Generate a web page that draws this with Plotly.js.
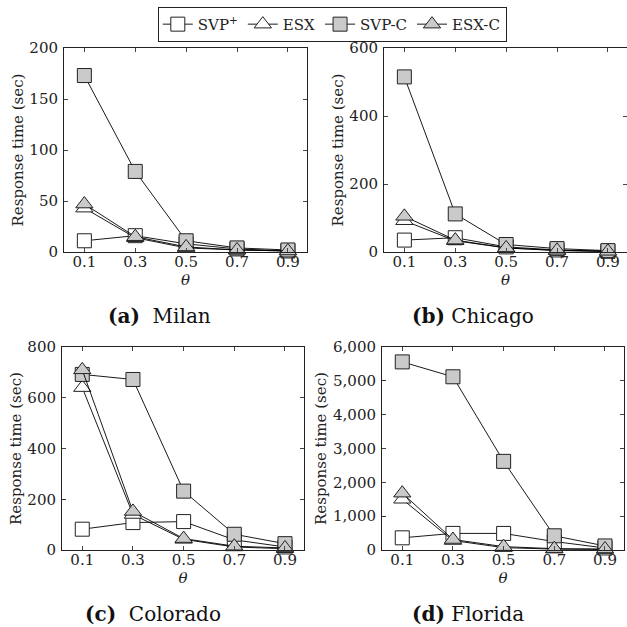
<!DOCTYPE html>
<html>
<head>
<meta charset="utf-8">
<script src="https://cdn.plot.ly/plotly-3.0.1.min.js"></script>
<style>html,body{margin:0;padding:0;background:#fff;}#chart{width:627px;height:627px;}</style>
</head>
<body>
<div id="chart"></div>
<script>
// ---- data ----
const thetas = [0.1, 0.3, 0.5, 0.7, 0.9];
const thetaTicks = ['0.1', '0.3', '0.5', '0.7', '0.9'];
const seriesNames = ['SVP<sup>+</sup>', 'ESX', 'SVP-C', 'ESX-C'];
const panelCaptions = ['<b>(a)</b>  Milan', '<b>(b)</b> Chicago', '<b>(c)</b>  Colorado', '<b>(d)</b> Florida'];

const milanSVPplus = [11, 16, 8, 3, 1];
const milanESX = [43, 14, 4, 2, 1];
const milanSVPC = [173, 79, 11, 4, 2];
const milanESXC = [47, 15, 5, 2, 1];

const chicagoSVPplus = [35, 42, 15, 6, 2];
const chicagoESX = [92, 33, 12, 4, 2];
const chicagoSVPC = [515, 112, 22, 10, 4];
const chicagoESXC = [105, 35, 12, 5, 2];

const coloradoSVPplus = [82, 108, 112, 40, 12];
const coloradoESX = [640, 140, 42, 12, 5];
const coloradoSVPC = [692, 672, 232, 62, 25];
const coloradoESXC = [710, 152, 45, 15, 8];

const floridaSVPplus = [360, 490, 490, 250, 60];
const floridaESX = [1500, 280, 70, 25, 15];
const floridaSVPC = [5560, 5120, 2620, 420, 120];
const floridaESXC = [1680, 310, 100, 40, 30];

const yTickVals = [
  [0, 50, 100, 150, 200],
  [0, 200, 400, 600],
  [0, 200, 400, 600, 800],
  [0, 1000, 2000, 3000, 4000, 5000, 6000]
];
const yRanges = [[0, 200], [0, 600], [0, 800], [0, 6000]];

// ---- styling ----
const FONT = 'DejaVu Serif';
const GRAY = '#cacaca';
const styles = [
  {symbol: 'square', color: '#ffffff', size: 14},
  {symbol: 'triangle-up', color: '#ffffff', size: 15},
  {symbol: 'square', color: GRAY, size: 14},
  {symbol: 'triangle-up', color: GRAY, size: 15}
];

const panels = [
  [milanSVPplus, milanESX, milanSVPC, milanESXC],
  [chicagoSVPplus, chicagoESX, chicagoSVPC, chicagoESXC],
  [coloradoSVPplus, coloradoESX, coloradoSVPC, coloradoESXC],
  [floridaSVPplus, floridaESX, floridaSVPC, floridaESXC]
];

const traces = [];
panels.forEach((p, pi) => {
  p.forEach((ys, si) => {
    const st = styles[si];
    traces.push({
      x: thetas, y: ys,
      type: 'scatter', mode: 'lines+markers',
      name: seriesNames[si],
      showlegend: pi === 0,
      legendgroup: 's' + si,
      xaxis: pi === 0 ? 'x' : 'x' + (pi + 1),
      yaxis: pi === 0 ? 'y' : 'y' + (pi + 1),
      line: {color: '#000', width: 0.9},
      marker: {symbol: st.symbol, size: st.size, color: st.color, line: {color: '#222', width: 1}},
      cliponaxis: false
    });
  });
});

const W = 627, H = 627;
const px = (a, b) => [a / W, b / W];
const py = (top, bottom) => [1 - bottom / H, 1 - top / H];
const xDomains = [px(64, 307), px(384, 627), px(62, 304), px(382, 624)];
const yDomains = [py(48, 252), py(48, 252), py(347, 550), py(347, 550)];

const layout = {
  width: W, height: H,
  margin: {l: 0, r: 0, t: 0, b: 0},
  paper_bgcolor: '#fff', plot_bgcolor: '#fff',
  font: {family: FONT, size: 15, color: '#222'},
  showlegend: true,
  legend: {
    orientation: 'h', x: 0.53, xanchor: 'center', y: 0.989, yanchor: 'top',
    bordercolor: '#222', borderwidth: 1, font: {family: FONT, size: 15, color: '#222'},
    itemwidth: 30, tracegroupgap: 0
  },
  annotations: []
};

const capPos = [[159, 316], [473, 316], [153, 614], [468, 614]];

for (let i = 0; i < 4; i++) {
  const sfx = i === 0 ? '' : String(i + 1);
  layout['xaxis' + sfx] = {
    domain: xDomains[i], anchor: 'y' + sfx, range: [0.02, 0.975],
    tickmode: 'array', tickvals: thetas, ticktext: thetaTicks,
    ticks: 'inside', ticklen: 4, tickcolor: '#444', tickwidth: 1,
    showline: true, linecolor: '#222', linewidth: 1, mirror: 'ticks',
    showgrid: false, zeroline: false, ticklabelstandoff: -4,
    tickfont: {family: FONT, size: 15, color: '#222'},
    title: {text: '<i>θ</i>', font: {family: FONT, size: 15, color: '#222'}, standoff: 0}
  };
  layout['yaxis' + sfx] = {
    domain: yDomains[i], anchor: 'x' + sfx, range: yRanges[i],
    tickmode: 'array', tickvals: yTickVals[i], tickformat: ',',
    ticks: 'inside', ticklen: 4, tickcolor: '#444', tickwidth: 1,
    showline: true, linecolor: '#222', linewidth: 1, mirror: 'ticks',
    showgrid: false, zeroline: false, ticklabelstandoff: 2,
    tickfont: {family: FONT, size: 15, color: '#222'},
    title: {text: 'Response time (sec)', font: {family: FONT, size: 15, color: '#222'}, standoff: 2}
  };
  layout.annotations.push({
    text: panelCaptions[i], xref: 'paper', yref: 'paper',
    x: capPos[i][0] / W, y: 1 - capPos[i][1] / H, xanchor: 'center', yanchor: 'middle',
    showarrow: false, font: {family: FONT, size: 20, color: '#111'}
  });
}

Plotly.newPlot('chart', traces, layout, {displayModeBar: false, staticPlot: true});
</script>
</body>
</html>
